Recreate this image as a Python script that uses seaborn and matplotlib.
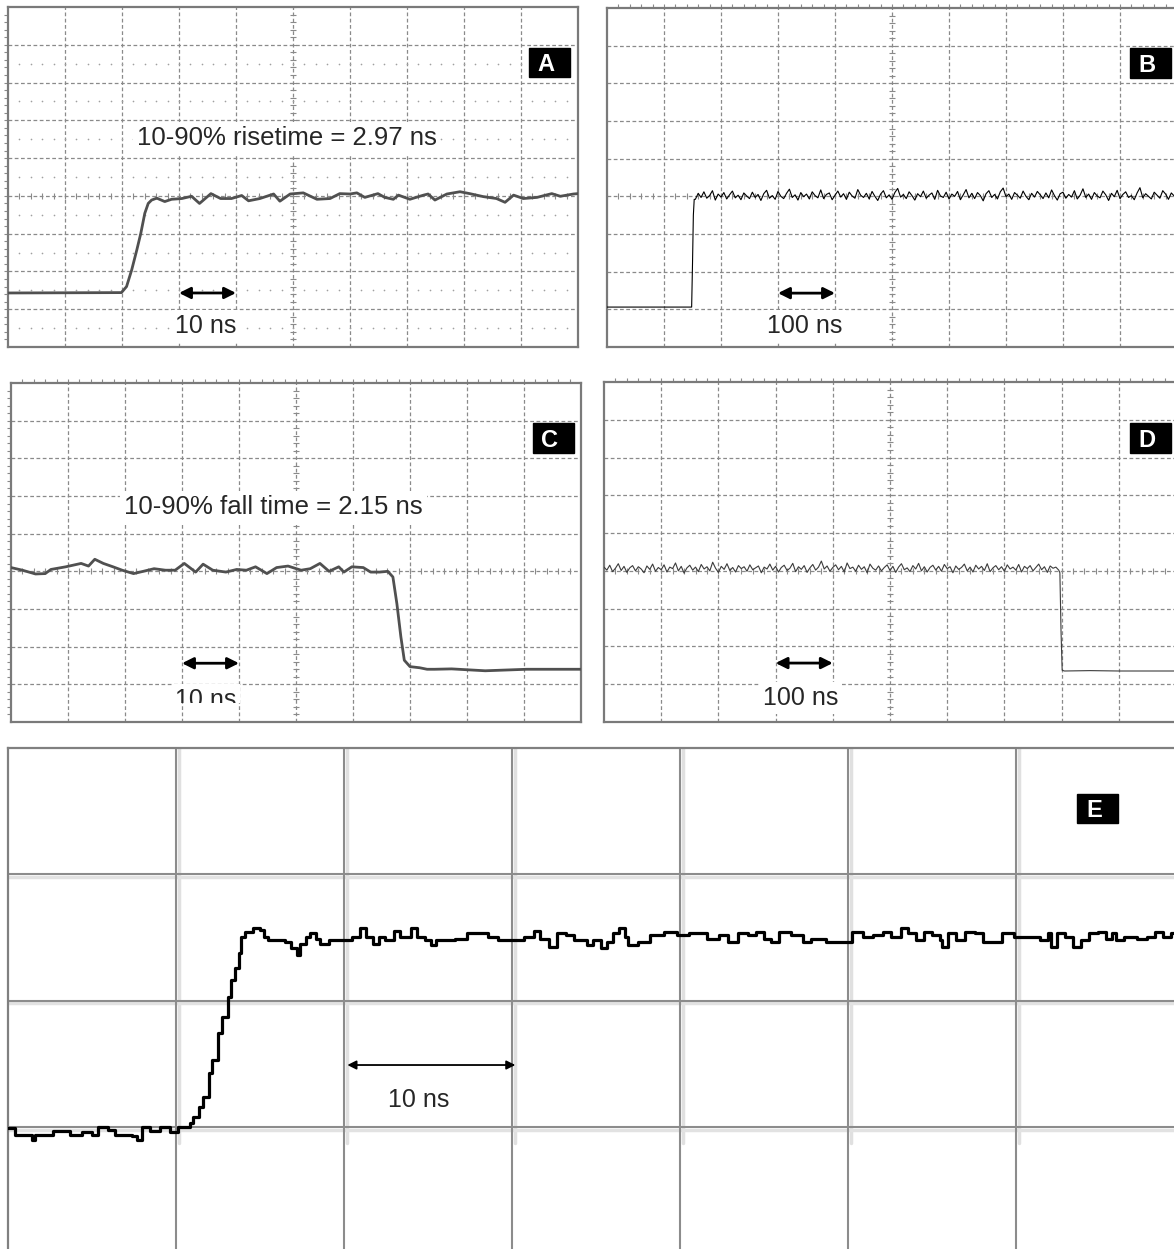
import numpy as np
import matplotlib
matplotlib.use('Agg')
import matplotlib.pyplot as plt
from matplotlib.patches import Rectangle
from matplotlib.transforms import Bbox, TransformedBbox
import seaborn as sns

# ---- traces (time in ns, level in divisions) ----
# A: rising edge, 10 ns/div
A_t = [0, 19.9, 20.8, 21.7, 22.6, 23.3, 24.0, 24.6, 25.2,
       26.1, 27.5, 28.7, 30.5, 32.2, 33.6, 35.6, 37.3, 39.2, 41.0, 42.2,
       44.2, 46.6, 47.7, 49.5, 51.8, 54.2, 56.5, 58.2, 60.0, 61.2,
       62.6, 64.9, 66.1, 67.6, 68.5, 70.5, 72.9, 73.7, 74.9, 77.0,
       79.3, 81.0, 83.4, 85.7, 87.2, 88.7, 90.4, 92.8, 95.4, 96.9,
       99.2, 100.0]
A_v = [1.43, 1.44, 1.60, 2.04, 2.57, 3.01, 3.54, 3.80, 3.89,
       3.94, 3.85, 3.91, 3.93, 3.99, 3.80, 4.06, 3.93, 3.93, 4.01, 3.87,
       3.93, 4.05, 3.86, 4.05, 4.08, 3.91, 3.93, 4.06, 4.05, 4.08,
       3.96, 4.06, 3.96, 3.91, 4.02, 3.91, 4.02, 4.05, 3.89, 4.05,
       4.11, 4.06, 3.98, 3.93, 3.83, 4.02, 3.93, 3.96, 4.06, 3.99,
       4.05, 4.06]

# B: rising edge, 100 ns/div
B_edge_t = [0, 148.5, 150.0, 151.5, 153.0]
B_edge_v = [1.06, 1.06, 2.2, 3.5, 3.92]
B_high = [3.92, 4.08, 3.97, 4.12, 3.95, 4.02, 4.15, 3.90, 4.06, 3.98, 4.10, 3.93, 4.04, 4.14, 3.96, 4.03, 3.91, 4.09, 4.01, 3.94,
          4.11, 3.97, 4.05, 3.89, 4.07, 4.16, 3.95, 4.02, 3.92, 4.13, 4.00, 3.94, 4.08, 4.19, 3.97, 4.04, 3.90, 4.10, 3.99, 4.06,
          3.93, 4.12, 4.02, 3.96, 4.17, 3.94, 4.05, 4.09, 3.91, 4.03, 4.14, 3.98, 4.07, 3.92, 4.11, 4.01, 3.95, 4.18, 4.03, 3.97,
          4.08, 3.93, 4.13, 4.00, 3.89, 4.06, 4.15, 3.96, 4.04, 3.92, 4.10, 4.21, 3.98, 4.05, 3.94, 4.12, 4.02, 3.90, 4.07, 3.99,
          4.14, 3.95, 4.03, 4.09, 3.92, 4.16, 4.01, 3.97, 4.11, 3.93, 4.06, 4.00, 4.13, 3.91, 4.04, 4.18, 3.96, 4.08, 3.94, 4.10,
          4.02, 3.88, 4.07, 4.15, 3.97, 4.05, 3.93, 4.12, 4.22, 3.99, 4.06, 3.92, 4.10, 4.03, 3.95, 4.14, 4.00, 3.91, 4.08, 3.98,
          4.13, 4.04, 3.94, 4.09, 3.96, 4.17, 4.02, 3.90, 4.07, 4.11, 3.95, 4.05, 3.98, 4.15, 3.93, 4.03, 4.20, 3.97, 4.06, 3.92,
          4.10, 4.01, 3.96, 4.14, 4.04, 3.89, 4.08, 3.99, 4.16, 3.94, 4.05, 4.12, 3.97, 4.02, 3.91, 4.09, 4.23, 3.96, 4.07, 4.00,
          3.93, 4.11, 4.03, 3.95, 4.15, 4.06, 3.92, 4.09, 4.01, 4.13]
B_high_start, B_step = 155, 5

# C: falling edge, 10 ns/div
C_t = [0, 2.0, 4.3, 6.0, 7.0, 9.6, 12.3, 13.6, 14.7, 16.2,
       17.9, 19.5, 21.5, 23.2, 25.1, 27.1, 28.8, 30.4, 32.4, 33.7,
       35.4, 37.7, 39.6, 41.3, 42.9, 44.9, 46.6, 48.6, 50.9, 52.5,
       54.2, 55.8, 57.5, 58.4, 59.8, 61.8, 63.1, 64.7, 66.1, 67.0,
       67.7, 68.4, 69.0, 70.0, 71.7, 73.0, 74.3, 77.3, 83.2, 90.5,
       100.0]
C_v = [4.10, 4.03, 3.93, 3.94, 4.05, 4.12, 4.21, 4.14, 4.32, 4.21,
       4.12, 4.03, 3.94, 4.00, 4.07, 4.03, 4.03, 4.21, 3.98, 4.19,
       4.03, 3.98, 4.05, 4.03, 4.12, 3.94, 4.10, 4.14, 4.03, 4.07,
       4.21, 4.00, 4.12, 3.98, 4.12, 4.10, 3.98, 3.98, 4.00, 3.85,
       3.14, 2.26, 1.64, 1.47, 1.44, 1.40, 1.40, 1.41, 1.36, 1.40,
       1.40]

# D: falling edge, 100 ns/div
D_high = [4.10, 4.02, 4.15, 3.98, 4.07, 4.19, 4.01, 4.12, 3.96, 4.08, 4.14, 4.00, 4.11, 4.05, 3.95, 4.13, 4.04, 4.18, 3.99, 4.09,
          4.03, 4.16, 3.97, 4.10, 4.06, 4.21, 4.00, 4.12, 3.94, 4.08, 4.15, 4.02, 4.10, 3.98, 4.17, 4.05, 4.11, 4.00, 4.23, 4.07,
          3.96, 4.12, 4.04, 4.19, 4.01, 4.09, 3.97, 4.14, 4.06, 4.11, 3.99, 4.16, 4.03, 4.08, 4.13, 3.95, 4.10, 4.05, 4.18, 4.02,
          4.12, 3.97, 4.09, 4.15, 4.01, 4.07, 4.20, 3.98, 4.11, 4.04, 4.14, 3.96, 4.08, 4.17, 4.02, 4.10, 4.26, 4.05, 4.13, 3.99,
          4.09, 4.16, 4.03, 4.12, 3.97, 4.21, 4.06, 4.10, 3.99, 4.15, 4.04, 4.11, 3.95, 4.18, 4.07, 4.02, 4.13, 4.00, 4.09, 4.16,
          4.01, 4.12, 3.96, 4.10, 4.19, 4.03, 4.08, 3.98, 4.14, 4.05, 4.20, 4.00, 4.11, 3.97, 4.09, 4.15, 4.02, 4.12, 3.99, 4.17,
          4.06, 4.11, 3.95, 4.13, 4.04, 4.09, 4.18, 4.00, 4.10, 3.97, 4.15, 4.05, 4.12, 4.01, 4.19, 3.98, 4.08, 4.14, 4.03, 4.11,
          3.99, 4.16, 4.05, 4.10, 4.02, 4.17, 3.97, 4.12, 4.06, 4.14, 4.00, 4.09, 4.18, 4.03, 4.11, 3.96, 4.13, 4.07, 4.10, 4.02]
D_step = 5
D_tail_t = [797, 799, 801, 805, 850, 900, 950, 1000]
D_tail_v = [3.95, 2.40, 1.37, 1.35, 1.36, 1.35, 1.35, 1.35]

# E: rising edge zoomed, 10 ns/div (pixelated trace)
E_t = [0.0, 0.42, 1.43, 1.6, 2.68, 3.69, 4.4, 5.0, 5.36, 5.95, 6.37, 7.38, 7.68, 7.98, 8.45, 9.05, 9.64,
       10.1, 10.83, 11.0, 11.37, 11.6, 11.94, 12.14, 12.5, 12.74, 13.08, 13.3, 13.51, 13.75, 13.87, 14.1,
       14.56, 15.0, 15.24, 15.48, 15.92, 16.49, 16.85, 17.18, 17.4, 17.74, 17.98, 18.32, 18.55, 19.1,
       20.1, 20.48, 20.93, 21.28, 21.73, 22.08, 22.42, 22.98, 23.33, 23.67, 24.01, 24.35, 24.81, 25.15,
       25.48, 26.06, 26.63, 27.32, 27.98, 28.57, 29.14, 29.82, 30.27, 30.71, 31.31, 31.64, 32.2, 32.68,
       33.21, 33.69, 34.15, 34.49, 34.82, 35.3, 35.65, 36.0, 36.35, 36.7, 36.93, 37.5, 38.21, 39.04,
       39.85, 40.54, 41.13, 41.6, 42.3, 42.86, 43.45, 44.05, 44.51, 44.98, 45.42, 45.89, 46.61, 47.31,
       47.77, 48.69, 49.64, 50.22, 50.92, 51.49, 52.08, 52.56, 53.13, 53.6, 54.07, 54.52, 55.0, 55.48,
       55.58, 55.93, 56.4, 56.98, 57.56, 58.04, 58.73, 59.19, 59.88, 60.83, 61.4, 61.88, 62.11, 62.44,
       62.92, 63.39, 63.85, 64.32, 64.88, 65.36, 65.71, 65.95, 66.43, 67.23, 67.8, 68.27, 68.75, 69.21,
       70.0]
E_v = [-0.01, -0.06, -0.10, -0.06, -0.03, -0.06, -0.04, -0.06, 0.0, -0.02, -0.06, -0.07, -0.10, 0.0, -0.03, 0.0, -0.04,
       0.0, 0.03, 0.08, 0.16, 0.24, 0.43, 0.53, 0.74, 0.87, 1.03, 1.16, 1.26, 1.375, 1.50, 1.54,
       1.57, 1.56, 1.50, 1.48, 1.48, 1.46, 1.415, 1.36, 1.45, 1.50, 1.53, 1.49, 1.45, 1.48,
       1.48, 1.50, 1.57, 1.50, 1.45, 1.50, 1.48, 1.55, 1.50, 1.50, 1.57, 1.50, 1.48, 1.44,
       1.48, 1.48, 1.49, 1.53, 1.53, 1.50, 1.48, 1.48, 1.48, 1.50, 1.55, 1.49, 1.42, 1.53,
       1.52, 1.48, 1.48, 1.44, 1.48, 1.415, 1.46, 1.53, 1.57, 1.50, 1.44, 1.46, 1.52, 1.54,
       1.52, 1.53, 1.53, 1.49, 1.52, 1.46, 1.53, 1.52, 1.54, 1.49, 1.46, 1.54, 1.52, 1.46,
       1.49, 1.46, 1.46, 1.54, 1.50, 1.52, 1.54, 1.50, 1.57, 1.53, 1.48, 1.54, 1.52, 1.48,
       1.42, 1.53, 1.48, 1.54, 1.53, 1.46, 1.46, 1.53, 1.50, 1.50, 1.48, 1.53, 1.42, 1.53,
       1.50, 1.42, 1.48, 1.53, 1.54, 1.49, 1.53, 1.48, 1.50, 1.49, 1.50, 1.54, 1.50, 1.53,
       1.53]

RISE_LABEL = '10-90% risetime = 2.97 ns'
FALL_LABEL = '10-90% fall time = 2.15 ns'

# ---- figure ----
sns.set_style('white')
plt.rcParams['font.family'] = ['Liberation Sans', 'DejaVu Sans']

W, H = 1174, 1249
fig = plt.figure(figsize=(W / 100, H / 100), dpi=100)
GRID = '#8a8a8a'


def fxy(x, y):
    """ pixel position (top-left origin) -> figure fraction """
    return x / W, 1 - y / H


def add_ax(x0, y0, x1, y1):
    return fig.add_axes([x0 / W, 1 - y1 / H, (x1 - x0) / W, (y1 - y0) / H])


def scope_panel(ax, tmax, left_ticks=False, top_ticks=False, dots=False):
    step = tmax / 10
    ax.set_xlim(0, tmax)
    ax.set_ylim(0, 9)
    for k in range(1, 10):
        ax.axvline(k * step, color=GRID, lw=0.9, ls=(0, (3, 2)), zorder=1)
    for k in range(1, 9):
        ax.axhline(k, color=GRID, lw=0.9, ls=(0, (3, 2)), zorder=1)
    # graticule ticks along the centre cross
    xs = np.arange(0, tmax + 1e-6, step / 5)
    ax.plot(xs, np.full(len(xs), 4.0), ls='none', marker='|', ms=5, mew=0.8, color=GRID, zorder=1)
    ys = np.arange(0, 9.001, 0.2)
    ax.plot(np.full(len(ys), 5 * step), ys, ls='none', marker='_', ms=5, mew=0.8, color=GRID, zorder=1)
    if dots:
        dx = np.arange(step / 5, tmax, step / 5)
        for r in np.arange(0.5, 8, 1.0):
            ax.plot(dx, np.full(len(dx), r), ls='none', marker='o', ms=1.2, mew=0,
                    color='#a0a0a0', zorder=1)
    ax.set_xticks([])
    ax.set_yticks([])
    if left_ticks:
        ax.set_yticks(np.arange(0.2, 9, 0.2), minor=True)
    if top_ticks:
        ax.set_xticks(np.arange(step / 5, tmax, step / 5), minor=True)
    ax.tick_params(which='minor', direction='out', length=3, width=0.8, color=GRID,
                   left=left_ticks, bottom=False, top=top_ticks,
                   labelleft=False, labelbottom=False)
    for s in ax.spines.values():
        s.set_color('#7a7a7a')
        s.set_linewidth(1.6)
    ax.set_xlabel('')
    ax.set_ylabel('')


def scale_arrow(ax, x0, x1, y, lw=2.0, ms=17):
    ax.annotate('', xy=(x1, y), xytext=(x0, y),
                arrowprops=dict(arrowstyle='<|-|>', color='black', lw=lw,
                                mutation_scale=ms, shrinkA=0, shrinkB=0), zorder=4)


def label(x, y, s, size=18, clip=None):
    t = fig.text(*fxy(x, y), s, fontsize=size, ha='center', va='baseline', zorder=4,
                 bbox=dict(boxstyle='square,pad=0.15', fc='white', ec='none'))
    if clip is not None:
        x0, y0, x1, y1 = clip
        bb = Bbox.from_extents(x0 / W, 1 - y1 / H, x1 / W, 1 - y0 / H)
        t.set_clip_box(TransformedBbox(bb, fig.transFigure))
        t.set_clip_on(True)
    return t


def panel_tag(letter, x0, y0, x1, y1):
    fig.add_artist(Rectangle(fxy(x0, y1), (x1 - x0) / W, (y1 - y0) / H,
                             transform=fig.transFigure, color='black', zorder=5))
    fig.text(*fxy(x0 + 0.41 * (x1 - x0), y1 - 6), letter, color='white', fontsize=17,
             fontweight='bold', ha='center', va='baseline', zorder=6)


# A
axA = add_ax(8, 7, 578, 347)
sns.lineplot(x=A_t, y=A_v, ax=axA, color='#505050', lw=2.0, estimator=None, sort=False, zorder=3)
scope_panel(axA, 100, left_ticks=True, dots=True)
scale_arrow(axA, 30, 40, 1.43)

# B
axB = add_ax(607, 8, 1177, 347)
B_t = list(B_edge_t) + list(np.arange(len(B_high)) * B_step + B_high_start)
B_v = list(B_edge_v) + list(B_high)
sns.lineplot(x=B_t, y=B_v, ax=axB, color='black', lw=0.8, estimator=None, sort=False, zorder=3)
scope_panel(axB, 1000, top_ticks=True)
scale_arrow(axB, 300, 400, 1.43)

# C
axC = add_ax(11, 383, 581, 722)
sns.lineplot(x=C_t, y=C_v, ax=axC, color='#505050', lw=2.0, estimator=None, sort=False, zorder=3)
scope_panel(axC, 100, left_ticks=True, top_ticks=True)
scale_arrow(axC, 30, 40, 1.56)

# D
axD = add_ax(604, 382, 1176, 722)
D_t = list(np.arange(len(D_high)) * D_step) + list(D_tail_t)
D_v = list(D_high) + list(D_tail_v)
sns.lineplot(x=D_t, y=D_v, ax=axD, color='#3c3c3c', lw=0.8, estimator=None, sort=False, zorder=3)
scope_panel(axD, 1000, top_ticks=True)
scale_arrow(axD, 300, 400, 1.56)

# E
axE = add_ax(8, 747.5, 1184, 1253.5)
for k in range(1, 7):
    axE.plot([k * 10 + 0.15] * 2, [-0.13, 3], color='#e0e0e0', lw=2.5, zorder=0)
    axE.axvline(k * 10, color='#8c8c8c', lw=1.5, zorder=1)
for k in range(0, 3):
    axE.axhline(k - 0.022, color='#e2e2e2', lw=2.5, zorder=0)
    axE.axhline(k, color='#8c8c8c', lw=1.5, zorder=1)
sns.lineplot(x=E_t, y=E_v, ax=axE, color='black', lw=2.3, drawstyle='steps-post',
             estimator=None, sort=False, zorder=3)
axE.set_xlim(0, 70)
axE.set_ylim(-1, 3)
axE.set_xticks([])
axE.set_yticks([])
axE.set_xlabel('')
axE.set_ylabel('')
for s in axE.spines.values():
    s.set_color('#808080')
    s.set_linewidth(1.6)
scale_arrow(axE, 20.2, 30.2, 0.49, lw=1.3, ms=13)

# text
label(286.5, 145, RISE_LABEL, size=18.5)
label(206, 333, '10 ns')
label(805, 333, '100 ns')
label(273.5, 514, FALL_LABEL, size=18.5)
label(206, 707, '10 ns', clip=(160, 670, 270, 703))
label(801, 705, '100 ns')
label(419, 1107, '10 ns')

panel_tag('A', 529, 48, 570, 77)
panel_tag('B', 1130, 48, 1171, 78)
panel_tag('C', 533, 423, 574, 453)
panel_tag('D', 1130, 423, 1171, 453)
panel_tag('E', 1077, 794, 1118, 823)

fig.savefig('out.png', dpi=100, facecolor='white')
